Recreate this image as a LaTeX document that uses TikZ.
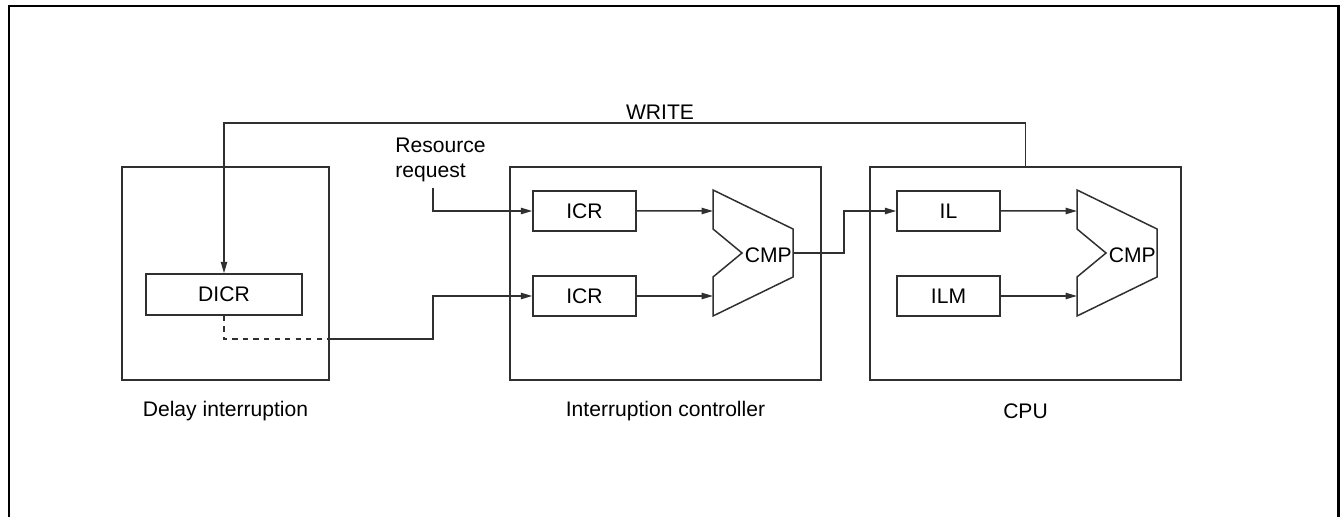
\documentclass[tikz,border=0pt]{standalone}
\usepackage{fontspec}
\setmainfont{Liberation Sans}
\usepackage{tikz}
\usetikzlibrary{arrows.meta, positioning, calc}
\definecolor{linegray}{HTML}{303030}

\tikzset{
  cmpunit/.pic={
    \draw[linegray, line width=0.85pt] (0,1.26) -- (1.6,0.48) -- (1.6,-0.48) -- (0,-1.26)
      -- (0,-0.48) -- (0.58,0) -- (0,0.48) -- cycle;
    \coordinate (-in1) at (0,0.84);
    \coordinate (-in2) at (0,-0.86);
    \coordinate (-out) at (1.6,0);
    \node[anchor=east, inner sep=0pt, font=\fontsize{12}{14}\selectfont] (-lbl) at (1.58,-0.04) {CMP};
  }
}

\begin{document}
\begin{tikzpicture}[
  block/.style={rectangle, draw=linegray, line width=0.85pt, minimum width=6.22cm,
    minimum height=4.26cm},
  reg/.style={rectangle, draw=linegray, line width=0.85pt, minimum width=2.06cm,
    minimum height=0.8cm, inner sep=0pt, font=\fontsize{12}{14}\selectfont},
  lbl/.style={inner sep=0pt, font=\fontsize{12}{14}\selectfont},
  arr/.style={draw=linegray, line width=0.85pt, -{Triangle[length=6.5pt, width=3.6pt]}}
]
  \useasboundingbox (0,0) rectangle (26.8,10.34);
  \draw[line width=1.4pt] (0.18,-0.3) |- (26.77,10.22) -- (26.77,-0.3);

  % the three blocks
  \node[block, minimum width=4.14cm] (dly) at (4.51, 4.87) {};
  \node[block] (intc) at (13.31, 4.87) {};
  \node[block] (cpu) at (20.51, 4.87) {};

  \node[reg, minimum width=3.12cm, minimum height=0.82cm] (dicr) at (4.48, 4.45) {DICR};
  \node[reg] (icr1) at (11.69, 6.12) {ICR};
  \node[reg] (icr2) at (11.69, 4.42) {ICR};
  \node[reg] (il) at (18.97, 6.12) {IL};
  \node[reg] (ilm) at (18.97, 4.42) {ILM};

  \pic (c1) at (14.26, 5.28) {cmpunit};
  \pic (c2) at (21.54, 5.28) {cmpunit};

  % labels
  \node[lbl] (writelbl) at (13.2, 8.1) {WRITE};
  \node[lbl, align=left, anchor=north west, font=\fontsize{12}{13.8}\selectfont] (resreq) at (7.9, 7.58) {Resource\\request};
  \node[lbl] at ([yshift=-0.6cm]dly.south) {Delay interruption};
  \node[lbl] at ([yshift=-0.6cm]intc.south) {Interruption controller};
  \node[lbl] at ([yshift=-0.6cm]cpu.south) {CPU};

  % connections
  \coordinate (rq) at (8.66, 6.58);
  \coordinate (dsh) at (dly.east |- 0,3.56);
  \draw[arr] (cpu.north) -- ++(0,0.86) -| (dicr.north);
  \draw[arr] (rq) |- (icr1.west);
  \draw[linegray, line width=0.85pt, dashed] (dicr.south) |- (dsh);
  \draw[arr] (dsh) -- ++(2.06,0) |- (icr2.west);
  \draw[arr] (icr1.east) -- (c1-in1);
  \draw[arr] (icr2.east) -- (c1-in2);
  \draw[arr] (c1-out) -- ++(1.02,0) |- (il.west);
  \draw[arr] (il.east) -- (c2-in1);
  \draw[arr] (ilm.east) -- (c2-in2);
\end{tikzpicture}
\end{document}
